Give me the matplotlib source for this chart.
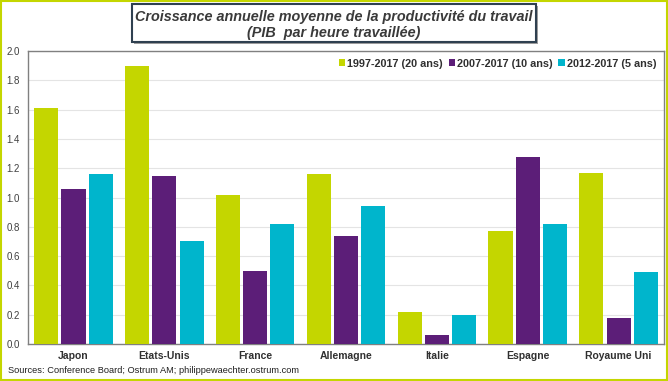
import matplotlib
matplotlib.use("Agg")
import matplotlib.pyplot as plt
import numpy as np
from matplotlib.patches import Rectangle

plt.rcParams['font.family'] = ['Liberation Sans', 'DejaVu Sans']

categories = ["Japon", "Etats-Unis", "France", "Allemagne", "Italie", "Espagne", "Royaume Uni"]
series_names = ["1997-2017 (20 ans)", "2007-2017 (10 ans)", "2012-2017 (5 ans)"]
v_20 = [1.61, 1.90, 1.02, 1.16, 0.22, 0.77, 1.17]
v_10 = [1.06, 1.15, 0.50, 0.74, 0.06, 1.28, 0.18]
v_5 = [1.16, 0.70, 0.82, 0.94, 0.20, 0.82, 0.49]
colors = ["#C4D600", "#5C1E78", "#00B5CC"]
yticks = [0.0, 0.2, 0.4, 0.6, 0.8, 1.0, 1.2, 1.4, 1.6, 1.8, 2.0]

W, H = 668, 381
fig = plt.figure(figsize=(W / 100, H / 100), dpi=100)
fig.patch.set_facecolor("white")
# outer border
fig.patches.append(Rectangle((0.002, 0.003), 0.996, 0.994, transform=fig.transFigure,
                             fill=False, edgecolor="#C4D600", linewidth=1.5))

ax = fig.add_axes([0.042, 0.097, 0.952, 0.769])
x = np.arange(len(categories))
w = 0.265
gap = 0.035
for i, (vals, c, name) in enumerate(zip([v_20, v_10, v_5], colors, series_names)):
    ax.bar(x + (i - 1) * (w + gap), vals, width=w, color=c, label=name, zorder=3)

ax.set_xlim(-0.5, len(categories) - 0.5)
ax.set_ylim(0, 2.0)
ax.set_yticks(yticks)
ax.set_yticklabels([f"{t:.1f}" for t in yticks], fontsize=7, color="#404040")
ax.set_xticks(x)
ax.set_xticklabels(categories, fontsize=7.5, fontweight="bold", color="#303030")
ax.tick_params(axis="x", length=0, pad=5)
ax.tick_params(axis="y", length=0, pad=6)
ax.grid(axis="y", color="#E4E4E4", linewidth=0.8, zorder=0)
for s in ax.spines.values():
    s.set_color("#808080")
    s.set_linewidth(1.0)

leg = ax.legend(loc="upper right", ncol=3, frameon=False,
                handlelength=0.6, handleheight=0.6, handletextpad=0.2,
                columnspacing=0.5, borderaxespad=0.3,
                prop={"weight": "bold", "size": 7.8})
for t in leg.get_texts():
    t.set_color("#303030")

# title box with shadow
bx0, bx1, by0, by1 = 132, 536, 4, 42
fig.patches.append(Rectangle(((bx0 + 2) / W, 1 - (by1 + 2) / H), (bx1 - bx0) / W, (by1 - by0) / H,
                             transform=fig.transFigure, facecolor="#A0A0A0", edgecolor="none"))
fig.patches.append(Rectangle((bx0 / W, 1 - by1 / H), (bx1 - bx0) / W, (by1 - by0) / H,
                             transform=fig.transFigure, facecolor="white", edgecolor="#2F4050",
                             linewidth=1.5))
fig.text((bx0 + bx1) / 2 / W, 1 - 16.5 / H, "Croissance annuelle moyenne de la productivité du travail",
         ha="center", va="center", fontsize=10.4, fontweight="bold", style="italic", color="#3A3A3A")
fig.text((bx0 + bx1) / 2 / W, 1 - 32.5 / H, "(PIB  par heure travaillée)",
         ha="center", va="center", fontsize=10.4, fontweight="bold", style="italic", color="#3A3A3A")

fig.text(0.012, 0.028, "Sources: Conference Board; Ostrum AM; philippewaechter.ostrum.com",
         fontsize=6.7, color="#202020", ha="left", va="center")

fig.savefig("out.png", dpi=100)
